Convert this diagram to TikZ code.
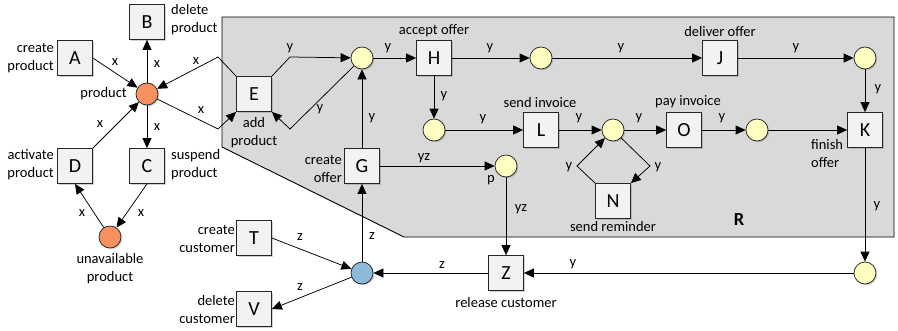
\documentclass[tikz,border=0pt]{standalone}
\usepackage{fontspec}
\setmainfont{Carlito}
\usetikzlibrary{arrows.meta,shadows}
\definecolor{boxfill}{RGB}{242,242,242}
\definecolor{regfill}{RGB}{217,217,217}
\definecolor{yel}{RGB}{255,255,194}
\definecolor{orn}{RGB}{248,145,95}
\definecolor{blu}{RGB}{140,186,218}
\begin{document}
\begin{tikzpicture}[x=1pt,y=-1pt,
  font=\fontsize{14.5}{18}\selectfont,
  shd/.style={drop shadow={shadow xshift=1.3pt, shadow yshift=-1.3pt, opacity=0.3, fill=black!60}},
  tbox/.style={draw=black!85, fill=boxfill, minimum size=35pt, inner sep=0pt, line width=0.75pt, font=\fontsize{20}{20}\selectfont, shd},
  pl/.style={circle, draw=black!85, minimum size=22pt, inner sep=0pt, line width=0.75pt, shd},
  ylw/.style={pl, fill=yel},
  org/.style={pl, fill=orn},
  blp/.style={pl, fill=blu},
  lbl/.style={inner sep=0pt},
  arr/.style={-{Triangle[length=10pt,width=9pt]}, line width=0.75pt},
]
\useasboundingbox (0,0) rectangle (898,330);
% region R
\draw[fill=regfill, line width=0.9pt] (222,17) -- (894,17) -- (894,237) -- (404,237) -- (222,147) -- cycle;
\node[lbl, font=\fontsize{18.5}{18.5}\selectfont\bfseries] (lR) at (739,219) {R};

% transitions
\node[tbox] (A) at (75,58) {A};
\node[tbox] (B) at (147,22) {B};
\node[tbox] (C) at (147,166) {C};
\node[tbox] (D) at (75,166) {D};
\node[tbox] (E) at (254,94) {E};
\node[tbox] (T) at (254,238) {T};
\node[tbox] (V) at (254,309) {V};
\node[tbox] (G) at (362,166) {G};
\node[tbox] (H) at (434,58) {H};
\node[tbox] (J) at (720,58) {J};
\node[tbox] (L) at (541,130) {L};
\node[tbox] (O) at (684,130) {O};
\node[tbox] (K) at (865,130) {K};
\node[tbox] (N) at (613,201) {N};
\node[tbox] (Z) at (506,273) {Z};

% places
\node[org] (prod) at (147,94) {};
\node[org] (unav) at (110,237) {};
\node[blp] (blue) at (362,273) {};
\node[ylw] (c1) at (362,58) {};
\node[ylw] (c2) at (541,58) {};
\node[ylw] (c3) at (865,58) {};
\node[ylw] (c4) at (434,130) {};
\node[ylw] (c5) at (613,130) {};
\node[ylw] (c6) at (757,130) {};
\node[ylw] (c7) at (865,273) {};
\node[ylw] (p) at (506,166) {};

% node labels
\node[lbl, anchor=east, align=right] (lA) at (54,58) {create\\product};
\node[lbl, anchor=west, align=left] (lB) at (171,20) {delete\\product};
\node[lbl, anchor=east] (lprod) at (127,94) {product};
\node[lbl, anchor=east, align=right] (lD) at (54,165) {activate\\product};
\node[lbl, anchor=west, align=left] (lC) at (171,165) {suspend\\product};
\node[lbl, align=center] (lunav) at (110,269) {unavailable\\product};
\node[lbl, align=center] (lE) at (254,133) {add\\product};
\node[lbl, anchor=east, align=right] (lG) at (342,169) {create\\offer};
\node[lbl] (lH) at (434,31) {accept offer};
\node[lbl] (lJ) at (720,32) {deliver offer};
\node[lbl] (lL) at (540,103) {send invoice};
\node[lbl] (lO) at (688,102) {pay invoice};
\node[lbl, anchor=west, align=left] (lK) at (811,154) {finish\\offer};
\node[lbl] (lN) at (613,227) {send reminder};
\node[lbl] (lp) at (491,180) {p};
\node[lbl, anchor=east, align=right] (lT) at (235,239) {create\\customer};
\node[lbl, anchor=east, align=right] (lV) at (235,310) {delete\\customer};
\node[lbl] (lZ) at (506,303) {release customer};

% connectors, product part
\draw[arr] (A.east) -- (prod) node[lbl] (eA) at (115,62) {x};
\draw[arr] (prod) -- (B) node[lbl] (eB) at (157,64) {x};
\draw[arr] (prod) -- (C) node[lbl] (eC) at (157,127) {x};
\draw[arr] (D.north east) -- (prod) node[lbl] (eD) at (100,124) {x};
\draw[arr] (unav) -- (D.south) node[lbl] (eU) at (82,213) {x};
\draw[arr] (C.south) -- (unav) node[lbl] (eCU) at (141,213) {x};
\draw[arr] (E.north west) -- (218,57) -- (prod) node[lbl] (eEP) at (196,61) {x};
\draw[arr] (prod) -- (218,129) -- (E.south west) node[lbl] (ePE) at (201,110) {x};

% offer part
\draw[arr] (E.north east) -- (290,57) -- (c1) node[lbl] (eE1) at (290,48) {y};
\draw[arr] (c1) -- (290,129) -- (E.south east) node[lbl] (e1E) at (320,109) {y};
\draw[arr] (c1) -- (H) node[lbl] (e1H) at (388,48) {y};
\draw[arr] (H) -- (c2) node[lbl] (eH2) at (490,48) {y};
\draw[arr] (c2) -- (J) node[lbl] (e2J) at (621,48) {y};
\draw[arr] (J) -- (c3) node[lbl] (eJ3) at (796,48) {y};
\draw[arr] (c3) -- (K) node[lbl] (e3K) at (878,89) {y};
\draw[arr] (H) -- (c4) node[lbl] (eH4) at (444,96) {y};
\draw[arr] (c4) -- (L) node[lbl] (e4L) at (483,119) {y};
\draw[arr] (L) -- (c5) node[lbl] (eL5) at (579,118) {y};
\draw[arr] (c5) -- (O) node[lbl] (e5O) at (639,118) {y};
\draw[arr] (O) -- (c6) node[lbl] (eO6) at (722,118) {y};
\draw[arr] (c6) -- (K);
\draw[arr] (N.north west) -- (577,166) -- (c5) node[lbl] (eN5) at (569,167) {y};
\draw[arr] (c5) -- (650,166) -- (N.north east) node[lbl] (e5N) at (658,167) {y};
\draw[arr] (G) -- (c1) node[lbl] (eG1) at (372,118) {y};
\draw[arr] (G) -- (p) node[lbl] (eGp) at (424,158) {yz};
\draw[arr] (p) -- (Z) node[lbl] (epZ) at (521,209) {yz};
\draw[arr] (K) -- (c7) node[lbl] (eK7) at (877,206) {y};
\draw[arr] (c7) -- (Z) node[lbl] (e7Z) at (573,264) {y};

% customer part
\draw[arr] (Z) -- (blue) node[lbl] (eZb) at (442,265) {z};
\draw[arr] (blue) -- (G) node[lbl] (ebG) at (372,236) {z};
\draw[arr] (T.east) -- (blue) node[lbl] (eTb) at (300,237) {z};
\draw[arr] (blue) -- (V.east) node[lbl] (ebV) at (300,287) {z};
\end{tikzpicture}
\end{document}
